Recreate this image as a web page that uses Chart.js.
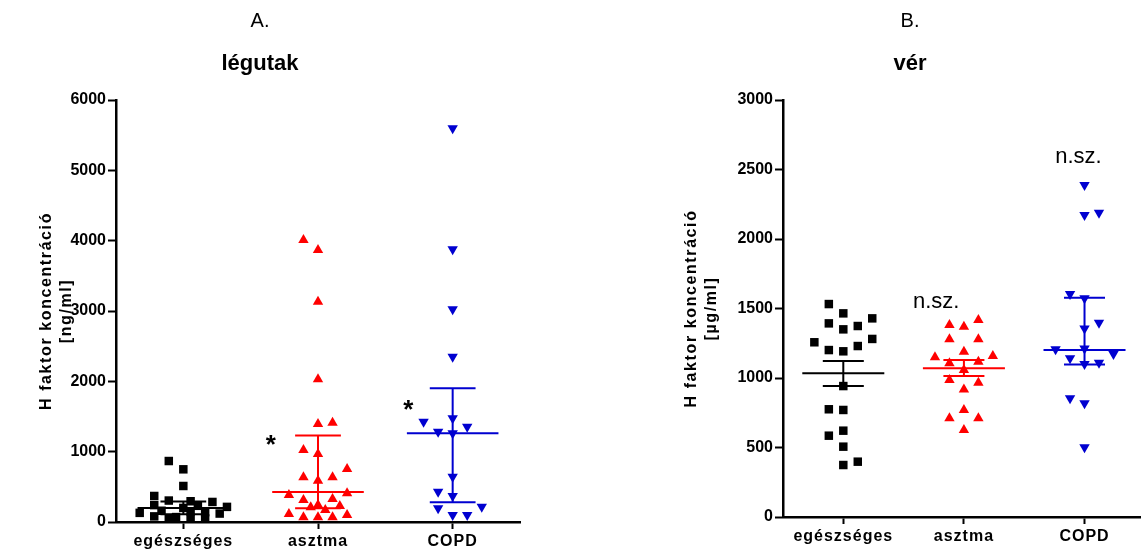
<!DOCTYPE html>
<html>
<head>
<meta charset="utf-8">
<script src="https://cdn.jsdelivr.net/npm/chart.js@4.4.1/dist/chart.umd.min.js"></script>
<style>
  html, body { margin: 0; padding: 0; background: #fff; }
  #wrap { position: relative; width: 1146px; height: 550px; overflow: hidden; }
  canvas { position: absolute; top: 0; }
  #cA { left: 0; }
  #cB { left: 674px; }
</style>
</head>
<body>
<div id="wrap">
  <canvas id="cA" width="570" height="550"></canvas>
  <canvas id="cB" width="472" height="550"></canvas>
</div>
<script>
// ---------------- DATA ----------------
const categories = ['egészséges', 'asztma', 'COPD'];
const groupColors = ['#000000', '#ff0000', '#0000d0'];

// Panel A: légutak (ng/ml)
const panelATitle = 'A.';
const panelASubtitle = 'légutak';
const panelAYTitle = ['H faktor koncentráció', '[ng/ml]'];
const panelATicks = [0, 1000, 2000, 3000, 4000, 5000, 6000];

const airHealthy = [867, 749, 512, 370, 305, 295, 285, 240, 230, 215, 200, 160, 150, 140, 130, 120, 80, 70, 60, 50, 40];
const airHealthyJitter = [-1, 0, 0, -2, -1, 0.5, 2, -2, 1, 3, 0, -1.5, 0.5, 1.5, -3, 2.5, -2, -0.5, 0.5, 1.5, -1];
const airAsthma = [4010, 3868, 3133, 2029, 1393, 1412, 1024, 967, 754, 635, 587, 635, 384, 408, 313, 327, 209, 242, 171, 228, 114, 67, 67, 67, 100];
const airAsthmaJitter = [-1, 0, 0, 0, 0, 1, -1, 0, 2, -1, 0, 1, -2, 2, -1, 1, -0.5, 0, 0.5, 1.5, -2, -1, 0, 1, 2];
const airCOPD = [5598, 3877, 3024, 2351, 1426, 1474, 1355, 1284, 1261, 644, 431, 370, 195, 218, 100, 100];
const airCOPDJitter = [0, 0, 0, 0, -2, 0, 1, -1, 0, 0, -1, 0, -1, 2, 0, 1];
// median with interquartile range [center, low, high]
const airSummary = [[200, 110, 290], [425, 195, 1230], [1261, 280, 1901]];

// Panel B: vér (µg/ml)
const panelBTitle = 'B.';
const panelBSubtitle = 'vér';
const panelBYTitle = ['H faktor koncentráció', '[\u00b5g/ml]'];
const panelBTicks = [0, 500, 1000, 1500, 2000, 2500, 3000];

const bloodHealthy = [1532, 1465, 1429, 1393, 1374, 1350, 1281, 1257, 1201, 1192, 1230, 942, 775, 770, 621, 585, 506, 374, 398];
const bloodHealthyJitter = [-1, 0, 2, -1, 1, 0, 2, -2, -1, 0, 1, 0, -1, 0, 0, -1, 0, 0, 1];
const bloodAsthma = [1417, 1381, 1369, 1278, 1278, 1189, 1149, 1158, 1106, 1117, 1058, 986, 966, 918, 770, 710, 710, 626];
const bloodAsthmaJitter = [1, -1, 0, -1, 1, 0, -2, 2, -1, 1, 0, -1, 1, 0, 0, -1, 1, 0];
const bloodCOPD = [2388, 2173, 2189, 1604, 1573, 1398, 1357, 1206, 1213, 1173, 1142, 1101, 1110, 854, 818, 501];
const bloodCOPDJitter = [0, 0, 1, -1, 0, 1, 0, -2, 0, 2, -1, 0, 1, -1, 0, 0];
const bloodSummary = [[1034, 942, 1122], [1070, 1014, 1129], [1201, 1098, 1578]];

// significance marks [text, category position, value]
const panelAMarks = [['*', 1.65, 981], ['*', 2.67, 1479]];
const panelBMarks = [['n.sz.', 1.77, 1504], ['n.sz.', 2.95, 2547]];

// ---------------- BUILD ----------------
const FONT = '"Liberation Sans", Arial, Helvetica, sans-serif';

function pts(vals, jit, cat, step) {
  return vals.map((v, i) => ({ x: cat + jit[i] * step, y: v }));
}
function summaryPts(cat, s) {
  const [c, lo, hi] = s;
  const w = 0.34, cw = 0.17;
  return [
    { x: cat - w, y: c }, { x: cat + w, y: c }, { x: cat, y: null },
    { x: cat, y: lo }, { x: cat, y: hi }, { x: cat, y: null },
    { x: cat - cw, y: lo }, { x: cat + cw, y: lo }, { x: cat, y: null },
    { x: cat - cw, y: hi }, { x: cat + cw, y: hi }
  ];
}

const marksPlugin = {
  id: 'marks',
  afterDatasetsDraw(chart, args, opts) {
    const { ctx, scales } = chart;
    (opts.items || []).forEach(m => {
      ctx.save();
      ctx.font = opts.font;
      ctx.fillStyle = '#000';
      ctx.textAlign = 'center';
      ctx.textBaseline = 'alphabetic';
      ctx.fillText(m[0], scales.x.getPixelForValue(m[1]), scales.y.getPixelForValue(m[2]));
      ctx.restore();
    });
  }
};

function withSpacing(chart, fn, sp) {
  return function (a) {
    chart.ctx.save();
    chart.ctx.letterSpacing = sp;
    fn(a);
    chart.ctx.restore();
  };
}

const spacingPlugin = {
  id: 'spacing',
  afterLayout(chart) {
    const sx = chart.scales.x, sy = chart.scales.y;
    if (sx && !sx._spaced) {
      sx.drawLabels = withSpacing(chart, sx.drawLabels.bind(sx), '1px');
      sx._spaced = true;
    }
    if (sy && !sy._spaced) {
      sy.drawTitle = withSpacing(chart, sy.drawTitle.bind(sy), '1.6px');
      sy._spaced = true;
    }
  }
};

function makeChart(id, cfg) {
  const datasets = [];
  cfg.groups.forEach((g, gi) => {
    datasets.push({
      type: 'scatter',
      data: summaryPts(gi + 1, cfg.summary[gi]),
      showLine: true,
      spanGaps: false,
      borderColor: groupColors[gi],
      borderWidth: 2,
      pointRadius: 0,
      pointHoverRadius: 0,
      fill: false
    });
  });
  cfg.groups.forEach((g, gi) => {
    datasets.push({
      type: 'scatter',
      data: pts(g.vals, g.jit, gi + 1, cfg.step),
      backgroundColor: groupColors[gi],
      borderColor: groupColors[gi],
      borderWidth: 0,
      pointStyle: g.style,
      rotation: g.rot || 0,
      pointRadius: 6
    });
  });

  return new Chart(document.getElementById(id), {
    type: 'scatter',
    data: { datasets },
    plugins: [marksPlugin, spacingPlugin],
    options: {
      responsive: false,
      animation: false,
      devicePixelRatio: 1,
      layout: { padding: { left: 0, right: cfg.padRight, top: 0, bottom: 0 } },
      plugins: {
        legend: { display: false },
        tooltip: { enabled: false },
        title: {
          display: true, text: cfg.title, color: '#000',
          font: { family: FONT, size: 20, weight: 'normal', lineHeight: 1.2 },
          padding: { top: 9, bottom: 0 }
        },
        subtitle: {
          display: true, text: cfg.subtitle, color: '#000',
          font: { family: FONT, size: 22, weight: 'bold', lineHeight: 1.2 },
          padding: { top: 17.8, bottom: 22.8 }
        },
        marks: { items: cfg.marks, font: cfg.markFont }
      },
      scales: {
        x: {
          type: 'linear',
          min: 0.5, max: cfg.xMax,
          afterBuildTicks: s => { s.ticks = [{ value: 1 }, { value: 2 }, { value: 3 }]; },
          afterFit: s => { s.height = cfg.xHeight; },
          ticks: {
            color: '#000',
            font: { family: FONT, size: 16, weight: 'bold' },
            padding: 3,
            maxRotation: 0,
            autoSkip: false,
            callback: v => categories[Math.round(v) - 1]
          },
          grid: { drawOnChartArea: false, drawTicks: true, tickLength: 7, tickWidth: 2, color: '#000' },
          border: { display: true, color: '#000', width: 2.5 }
        },
        y: {
          type: 'linear',
          min: cfg.yTicks[0], max: cfg.yTicks[cfg.yTicks.length - 1],
          afterBuildTicks: s => { s.ticks = cfg.yTicks.map(v => ({ value: v })); },
          afterFit: s => { s.width = cfg.yWidth; },
          ticks: {
            color: '#000',
            font: { family: FONT, size: 16, weight: 'bold' },
            padding: 2,
            callback: v => String(v)
          },
          grid: { drawOnChartArea: false, drawTicks: true, tickLength: 8, tickWidth: 2, color: '#000' },
          border: { display: true, color: '#000', width: 2.5 },
          title: {
            display: true, text: cfg.yTitle, color: '#000',
            font: { family: FONT, size: 16, weight: 'bold', lineHeight: 1.25 },
            padding: { top: cfg.yTitlePad, bottom: 0 }
          }
        }
      }
    }
  });
}

makeChart('cA', {
  title: panelATitle, subtitle: panelASubtitle, yTitle: panelAYTitle, yTicks: panelATicks,
  groups: [
    { vals: airHealthy, jit: airHealthyJitter, style: 'rect' },
    { vals: airAsthma, jit: airAsthmaJitter, style: 'triangle' },
    { vals: airCOPD, jit: airCOPDJitter, style: 'triangle', rot: 180 }
  ],
  summary: airSummary,
  step: 0.108, xMax: 3.5, padRight: 50, yWidth: 116, xHeight: 28, yTitlePad: 37,
  marks: panelAMarks, markFont: 'bold 26px ' + FONT
});

makeChart('cB', {
  title: panelBTitle, subtitle: panelBSubtitle, yTitle: panelBYTitle, yTicks: panelBTicks,
  groups: [
    { vals: bloodHealthy, jit: bloodHealthyJitter, style: 'rect' },
    { vals: bloodAsthma, jit: bloodAsthmaJitter, style: 'triangle' },
    { vals: bloodCOPD, jit: bloodCOPDJitter, style: 'triangle', rot: 180 }
  ],
  summary: bloodSummary,
  step: 0.12, xMax: 3.46, padRight: 0, yWidth: 109, xHeight: 33, yTitlePad: 8,
  marks: panelBMarks, markFont: 'normal 22px ' + FONT
});
</script>
</body>
</html>
